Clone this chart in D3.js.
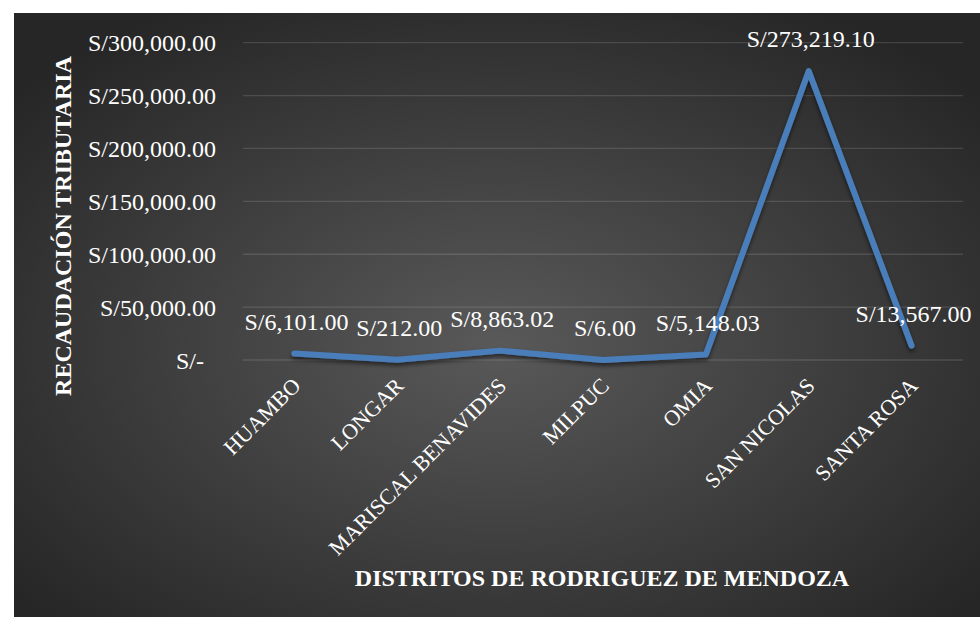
<!DOCTYPE html>
<html>
<head>
<meta charset="utf-8">
<script src="https://cdn.jsdelivr.net/npm/d3@7"></script>
<style>
  body { margin: 0; background: #fff; }
  svg { display: block; }
  text { font-family: "Liberation Serif", "Times New Roman", serif; fill: #fff; }
</style>
</head>
<body>
<script>
// chart data
const districts = ["HUAMBO", "LONGAR", "MARISCAL BENAVIDES", "MILPUC", "OMIA", "SAN NICOLAS", "SANTA ROSA"]
const recaudacion = [6101.00, 212.00, 8863.02, 6.00, 5148.03, 273219.10, 13567.00]
const tickValues = [0, 50000, 100000, 150000, 200000, 250000, 300000]
const tickLabels = ["S/-", "S/50,000.00", "S/100,000.00", "S/150,000.00", "S/200,000.00", "S/250,000.00", "S/300,000.00"]

const W = 980, H = 617
const plot = { left: 243, right: 963, top: 42.7, bottom: 360 }

const svg = d3.select('body').append('svg')
    .attr('width', W)
    .attr('height', H)

// background gradient + line shadow
const defs = svg.append('defs')
const grad = defs.append('radialGradient')
    .attr('id', 'bg')
    .attr('cx', '50%').attr('cy', '55%').attr('r', '65%')
grad.append('stop').attr('offset', '0%').attr('stop-color', '#595959')
grad.append('stop').attr('offset', '100%').attr('stop-color', '#262626')

const shadow = defs.append('filter').attr('id', 'shadow')
    .attr('x', '-10%').attr('y', '-10%').attr('width', '120%').attr('height', '130%')
shadow.append('feDropShadow')
    .attr('dx', 0).attr('dy', 3).attr('stdDeviation', 2)
    .attr('flood-color', '#000').attr('flood-opacity', 0.55)

svg.append('rect')
    .attr('x', 14).attr('y', 13)
    .attr('width', W - 14).attr('height', H - 13)
    .attr('fill', 'url(#bg)')

// scales
const x = d3.scalePoint()
    .domain(districts)
    .range([plot.left, plot.right])
    .padding(0.5)

const y = d3.scaleLinear()
    .domain([0, 300000])
    .range([plot.bottom, plot.top])

// gridlines
svg.append('g')
    .selectAll('line')
    .data(tickValues)
    .enter()
    .append('line')
    .attr('x1', plot.left)
    .attr('x2', plot.right)
    .attr('y1', d => y(d))
    .attr('y2', d => y(d))
    .attr('stroke', 'rgba(255,255,255,0.13)')
    .attr('stroke-width', 1.3)

// y axis labels
const yAxis = svg.append('g')
    .attr('transform', 'translate(216,0)')
    .call(d3.axisLeft(y)
        .tickValues(tickValues)
        .tickSize(0)
        .tickPadding(0)
        .tickFormat((d, i) => tickLabels[i]))
yAxis.select('.domain').remove()
yAxis.selectAll('text')
    .style('font-size', '24px')
    .attr('fill', '#fff')
    .attr('dy', '0.34em')
    .attr('dx', d => d === 0 ? -12 : 0)
    .attr('font-family', null)

// x axis labels
const xAxis = svg.append('g')
    .attr('transform', 'translate(0,' + plot.bottom + ')')
    .call(d3.axisBottom(x).tickSize(0).tickPadding(0))
xAxis.select('.domain').remove()
xAxis.selectAll('text')
    .style('font-size', '22px')
    .attr('fill', '#fff')
    .attr('font-family', null)
    .attr('text-anchor', 'end')
    .attr('dy', null)
    .attr('y', null)
    .attr('transform', 'translate(7,27)rotate(-45)')

// line
svg.append('path')
    .datum(recaudacion)
    .attr('d', d3.line()
        .x((d, i) => x(districts[i]))
        .y(d => y(d)))
    .attr('fill', 'none')
    .attr('stroke', '#4a7ebb')
    .attr('stroke-width', 6)
    .attr('stroke-linecap', 'round')
    .attr('stroke-linejoin', 'round')
    .attr('filter', 'url(#shadow)')

// data labels
const fmt = d3.format(',.2f')
svg.append('g')
    .selectAll('text')
    .data(recaudacion)
    .enter()
    .append('text')
    .attr('x', (d, i) => x(districts[i]) + 2)
    .attr('y', d => y(d) - 24)
    .attr('text-anchor', 'middle')
    .style('font-size', '24px')
    .text(d => 'S/' + fmt(d))

// axis titles
svg.append('text')
    .attr('text-anchor', 'middle')
    .attr('transform', 'translate(71,226)rotate(-90)')
    .style('font-size', '24px')
    .style('font-weight', 'bold')
    .text('RECAUDACIÓN TRIBUTARIA')

svg.append('text')
    .attr('text-anchor', 'middle')
    .attr('x', 602)
    .attr('y', 586)
    .style('font-size', '24px')
    .style('font-weight', 'bold')
    .text('DISTRITOS DE RODRIGUEZ DE MENDOZA')
</script>
</body>
</html>
